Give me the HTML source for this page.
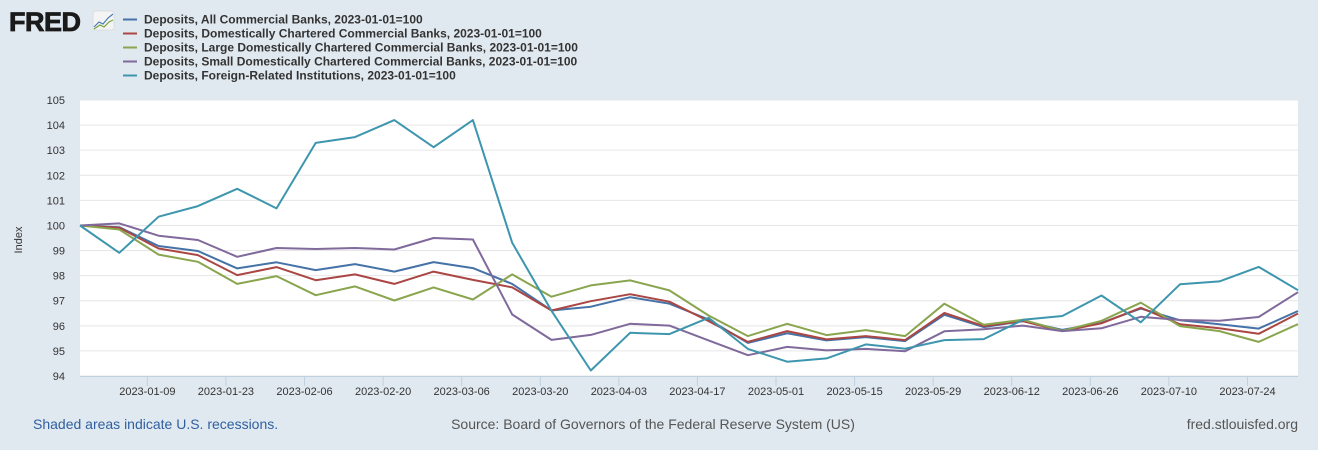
<!DOCTYPE html>
<html><head><meta charset="utf-8"><style>
body{margin:0;width:1318px;height:450px;background:#e1e9f0;font-family:"Liberation Sans",sans-serif;overflow:hidden}
svg{display:block}
</style></head><body>
<svg id="chart" width="1318" height="450">
<rect width="1318" height="450" fill="#e1e9f0"/>
<g>
<text x="9" y="31" font-size="27" font-weight="bold" fill="#1a1a1a" stroke="#1a1a1a" stroke-width="0.8" font-family="Liberation Sans, sans-serif" letter-spacing="-0.5">FRED</text>
<rect x="93" y="11" width="21" height="19" rx="2" fill="#f4f4f4" stroke="#ccc" stroke-width="0.5"/>
<polyline points="94,27 99,22 103,24 108,18 113,14" fill="none" stroke="#4a7bb7" stroke-width="1.2"/>
<polyline points="94,29 100,25 104,27 109,22 113,20" fill="none" stroke="#7aa33a" stroke-width="1.2"/>
</g>
<g id="legend"></g>
<rect x="80" y="100" width="1218" height="276" fill="#fff"/>
<g id="grid"></g>
<g id="axes"></g>
<g id="series"></g>
<text x="22" y="240" font-size="11" fill="#333" text-anchor="middle" transform="rotate(-90 22 240)">Index</text>
<text x="33" y="429" font-size="14" fill="#2f5fa0">Shaded areas indicate U.S. recessions.</text>
<text x="653" y="429" font-size="14" fill="#555" text-anchor="middle">Source: Board of Governors of the Federal Reserve System (US)</text>
<text x="1298" y="429" font-size="14" fill="#555" text-anchor="end">fred.stlouisfed.org</text>
</svg>
<script>
const seriesNames = ["Deposits, All Commercial Banks, 2023-01-01=100","Deposits, Domestically Chartered Commercial Banks, 2023-01-01=100","Deposits, Large Domestically Chartered Commercial Banks, 2023-01-01=100","Deposits, Small Domestically Chartered Commercial Banks, 2023-01-01=100","Deposits, Foreign-Related Institutions, 2023-01-01=100"];
const seriesColors = ["#4572a7","#aa4643","#89a54e","#80699b","#3d96ae"];
const allBanks = [100,99.93,99.18,98.98,98.29,98.53,98.22,98.46,98.16,98.54,98.30,97.67,96.61,96.76,97.14,96.88,96.25,95.32,95.70,95.42,95.55,95.39,96.44,95.95,96.19,95.84,96.12,96.69,96.22,96.06,95.89,96.59];
const domestic = [100,99.91,99.08,98.82,98.02,98.34,97.82,98.05,97.67,98.16,97.83,97.53,96.61,96.98,97.26,96.96,96.19,95.36,95.79,95.46,95.59,95.43,96.51,95.99,96.19,95.79,96.10,96.72,96.06,95.90,95.68,96.49];
const large = [100,99.84,98.84,98.55,97.67,97.98,97.22,97.57,97.01,97.53,97.05,98.05,97.16,97.61,97.81,97.41,96.41,95.59,96.08,95.63,95.83,95.59,96.88,96.04,96.24,95.80,96.20,96.92,95.99,95.79,95.36,96.07];
const small = [100,100.08,99.59,99.42,98.75,99.10,99.06,99.10,99.04,99.50,99.44,96.45,95.44,95.64,96.08,96.01,95.42,94.83,95.16,95.02,95.08,94.99,95.78,95.86,96.01,95.79,95.90,96.36,96.23,96.20,96.35,97.34];
const foreign = [100,98.91,100.35,100.77,101.46,100.68,103.29,103.52,104.2,103.12,104.2,99.31,96.6,94.22,95.72,95.67,96.32,95.08,94.57,94.70,95.26,95.09,95.43,95.47,96.24,96.39,97.21,96.14,97.66,97.77,98.35,97.42];
const yTicks = [94,95,96,97,98,99,100,101,102,103,104,105];
const xTickLabels = ["2023-01-09","2023-01-23","2023-02-06","2023-02-20","2023-03-06","2023-03-20","2023-04-03","2023-04-17","2023-05-01","2023-05-15","2023-05-29","2023-06-12","2023-06-26","2023-07-10","2023-07-24"];
const allSeries = [allBanks, domestic, large, small, foreign];
const seriesKeys = ["all-commercial-banks","domestic-banks","large-domestic-banks","small-domestic-banks","foreign-related"];

const NS="http://www.w3.org/2000/svg";
const X0=80,X1=1298,Y0=100,Y1=376;
const start=Date.UTC(2022,11,28);
const nPts=allBanks.length;
const end=start+(nPts-1)*7*864e5;
function xScale(t){return X0+(t-start)/(end-start)*(X1-X0);}
function yScale(v){return Y1-(v-94)/(105-94)*(Y1-Y0);}
function mk(tag,attrs,parent){const e=document.createElementNS(NS,tag);for(const k in attrs)e.setAttribute(k,attrs[k]);parent.appendChild(e);return e;}

const grid=document.getElementById('grid'), axes=document.getElementById('axes'), ser=document.getElementById('series'), leg=document.getElementById('legend');
yTicks.forEach(v=>{
  const y=yScale(v);
  const l=mk('line',{x1:X0,x2:X1,y1:y,y2:y,stroke:'#e6e6e6','stroke-width':1},grid);
  
  
  const t=mk('text',{x:65,y:y+4,'font-size':11,fill:'#333','text-anchor':'end'},axes);
  t.textContent=v;
  
  
});
const xl=mk('line',{x1:X0,x2:X1,y1:Y1+0.5,y2:Y1+0.5,stroke:'#c0d0e0'},axes);


xTickLabels.forEach(s=>{
  const p=s.split('-');const t=Date.UTC(+p[0],+p[1]-1,+p[2]);
  const x=xScale(t);
  const tk=mk('line',{x1:x,x2:x,y1:Y1,y2:Y1+10,stroke:'#c0d0e0'},axes);
  
  
  const tx=mk('text',{x:x,y:395,'font-size':11,fill:'#333','text-anchor':'middle'},axes);
  tx.textContent=s;
  
  
});
allSeries.forEach((arr,i)=>{
  const pts=arr.map((v,j)=>xScale(start+j*7*864e5).toFixed(1)+','+yScale(v).toFixed(1)).join(' ');
  const pl=mk('polyline',{points:pts,fill:'none',stroke:seriesColors[i],'stroke-width':2,'stroke-linejoin':'round'},ser);
  
  
  const y=19.5+i*14;
  const g=mk('g',{},leg);
  
  
  mk('line',{x1:123,x2:137,y1:y,y2:y,stroke:seriesColors[i],'stroke-width':2},g);
  const t=mk('text',{x:144,y:y+4,'font-size':12,fill:'#333','font-weight':'bold'},g);
  t.textContent=seriesNames[i];
});
</script>
</body></html>
